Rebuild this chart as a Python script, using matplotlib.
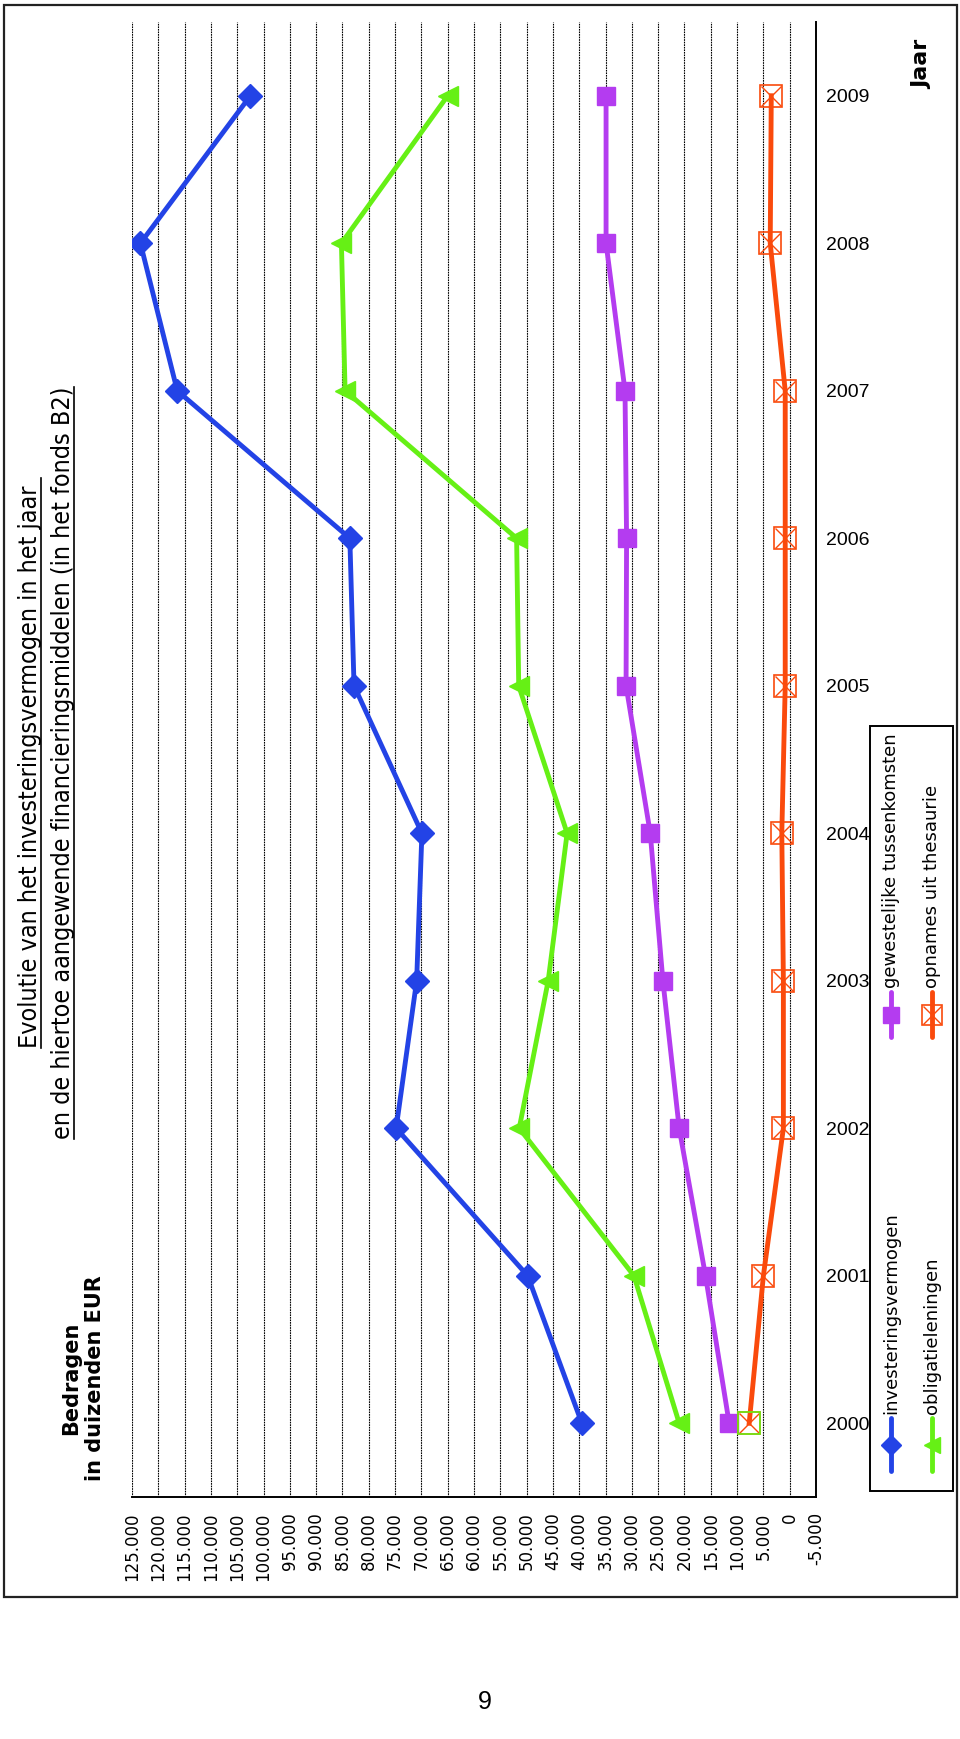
import numpy as np
import matplotlib.pyplot as plt
from matplotlib.patches import Rectangle

# data (values in thousands EUR)
years = [2000, 2001, 2002, 2003, 2004, 2005, 2006, 2007, 2008, 2009]
investeringsvermogen = [39500, 49800, 74800, 70900, 69900, 82800, 83600, 116400, 123400, 102500]
obligatieleningen = [21000, 29600, 51400, 45900, 42300, 51500, 51900, 84500, 85200, 65000]
gewestelijke_tussenkomsten = [11500, 16000, 21000, 24100, 26500, 31100, 31000, 31300, 34900, 34900]
opnames_thesaurie = [7700, 5000, 1200, 1200, 1500, 850, 850, 850, 3700, 3500]

series_names = ['investeringsvermogen', 'obligatieleningen',
                'gewestelijke tussenkomsten', 'opnames uit thesaurie']
value_ticks = list(range(125000, -5001, -5000))

title_lines = ['Evolutie van het investeringsvermogen in het jaar ',
               'en de hiertoe aangewende financieringsmiddelen (in het fonds B2)']

BLUE = '#2343E6'
GREEN = '#66F015'
PURPLE = '#B43CF0'
ORANGE = '#FA4A0C'


def fmt(v):
    s = f"{abs(v):,}".replace(',', '.')
    return ('-' if v < 0 else '') + s


W, H = 960, 1739
fig = plt.figure(figsize=(W / 100, H / 100), dpi=100)

# the chart is drawn sideways: values run right-to-left, years bottom-to-top
left, right, top, bottom = 132, 816, 22, 1497
ax = fig.add_axes([left / W, (H - bottom) / H, (right - left) / W, (bottom - top) / H])
ax.set_xlim(125000, -5000)
ax.set_ylim(1999.5, 2009.5)
for s in ['top', 'left']:
    ax.spines[s].set_visible(False)
for s in ['right', 'bottom']:
    ax.spines[s].set_linewidth(1.4)
ax.set_xticks(value_ticks)
ax.set_xticklabels([fmt(v) for v in value_ticks], rotation=90, fontsize=12)
ax.tick_params(axis='x', length=0, pad=11)
ax.xaxis.grid(True, color='black', linestyle=(0, (1.5, 0.8)), linewidth=0.8)
ax.set_axisbelow(True)
ax.set_yticks(years)
ax.set_yticklabels([str(y) for y in years], fontsize=14, family='Liberation Sans')
ax.yaxis.tick_right()
ax.tick_params(axis='y', length=0, pad=7)

ax.plot(investeringsvermogen, years, color=BLUE, lw=3.5, marker='D', ms=12)
ax.plot(obligatieleningen, years, color=GREEN, lw=3.5, marker='<', ms=15)
ax.plot(gewestelijke_tussenkomsten, years, color=PURPLE, lw=3.5, marker='s', ms=13)
ax.plot(opnames_thesaurie, years, color=ORANGE, lw=3.5, marker='s', ms=16,
        mfc='none', mew=1.2)
ax.plot(opnames_thesaurie, years, ls='none', marker='x', ms=15, mew=1.0, color=ORANGE)
ax.plot(opnames_thesaurie[:1], years[:1], ls='none', marker='s', ms=16,
        mfc='none', mec=GREEN, mew=1.2)

# page overlay in pixel coordinates
ov = fig.add_axes([0, 0, 1, 1])
ov.set_xlim(0, W)
ov.set_ylim(H, 0)
ov.axis('off')

ov.add_patch(Rectangle((4, 5), 953, 1592, fill=False, lw=1.6, ec='#222222'))

titles = []
for x, line in zip([30, 63], title_lines):
    titles.append(ov.text(x, 763, line, rotation=90, ha='center', va='center',
                          fontsize=18, family='DejaVu Sans', fontstretch='condensed'))

ov.text(83, 1378, 'Bedragen\nin duizenden EUR', rotation=90, ha='center', va='center',
        fontsize=15, fontweight='bold', multialignment='center', linespacing=1.2)
ov.text(922, 64, 'Jaar', rotation=90, ha='center', va='center',
        fontsize=16, fontweight='bold')
ov.text(485, 1702, '9', ha='center', va='center', fontsize=18, family='Liberation Sans')

# legend (rotated, drawn by hand)
ov.add_patch(Rectangle((870, 726), 83, 765, fill=False, lw=1.4, ec='black'))
leg_x = [891, 932, 891, 932]
leg_y = [(1418, 1471), (1418, 1471), (992, 1037), (992, 1037)]
leg_style = [dict(color=BLUE, marker='D', ms=10),
             dict(color=GREEN, marker='<', ms=12),
             dict(color=PURPLE, marker='s', ms=11),
             dict(color=ORANGE, marker='s', ms=14, mfc='none', mew=1.2)]
for name, x, (y0, y1), st in zip(series_names, leg_x, leg_y, leg_style):
    ov.plot([x, x], [y0, y1], color=st['color'], lw=3.5, solid_capstyle='round')
    ov.plot([x], [(y0 + y1) / 2], ls='none', **st)
    if name == series_names[3]:
        ov.plot([x], [(y0 + y1) / 2], ls='none', marker='x', ms=13, mew=1.0, color=ORANGE)
    ov.text(x, y0 - 4, name, rotation=90, ha='center', va='bottom', fontsize=13)

# underline the title lines
fig.canvas.draw()
inv = ov.transData.inverted()
for t in titles:
    bb = t.get_window_extent()
    (x0, y0), (x1, y1) = inv.transform([(bb.x0, bb.y0), (bb.x1, bb.y1)])
    ov.plot([x1 - 1, x1 - 1], [y0, y1], color='black', lw=1.2)

fig.savefig('out.png', dpi=100)
